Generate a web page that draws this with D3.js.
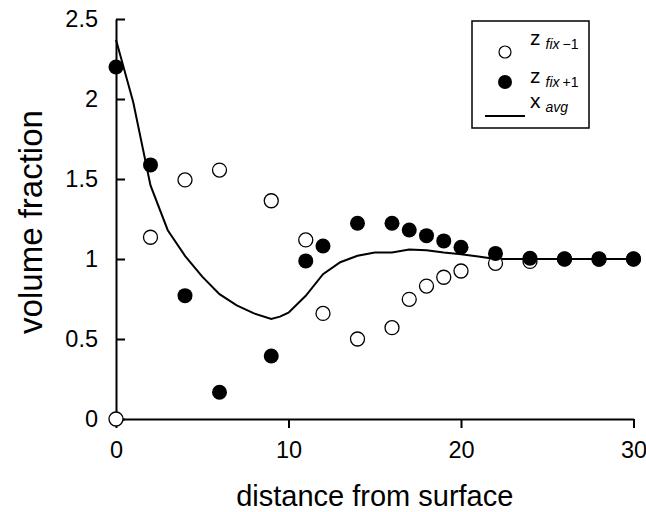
<!DOCTYPE html>
<meta charset="utf-8">
<style>
body { margin: 0; background: #fff; }
svg { font-family: "Liberation Sans", Arial, sans-serif; }
.axis .domain, .axis .tick line { stroke: #000; stroke-width: 2; }
.axis text { font-size: 23.5px; fill: #000; }
</style>
<body>
<script src="https://d3js.org/d3.v7.min.js"></script>
<script>

// z fix -1 (open circles)
var zm_x = [0, 2, 4, 6, 9, 11, 12, 14, 16, 17, 18, 19, 20, 22, 24, 26, 28, 30],
    zm_y = [0, 1.136, 1.494, 1.556, 1.364, 1.119, 0.66, 0.5, 0.571, 0.748, 0.831, 0.886, 0.925, 0.973, 0.985, 1.0, 1.0, 1.0];

// z fix +1 (filled circles)
var zp_x = [0, 2, 4, 6, 9, 11, 12, 14, 16, 17, 18, 19, 20, 22, 24, 26, 28, 30],
    zp_y = [2.2, 1.588, 0.771, 0.167, 0.394, 0.988, 1.081, 1.223, 1.223, 1.181, 1.146, 1.113, 1.073, 1.035, 1.005, 1.0, 0.999, 1.0];

// x avg (line)
var avg_x = [0, 1, 2, 3, 4, 5, 6, 7, 8, 9, 9.5, 10, 11, 12, 13, 14, 15, 16, 17, 18, 19, 20, 21, 22, 24, 26, 28, 30],
    avg_y = [2.37, 1.98, 1.46, 1.18, 1.02, 0.89, 0.78, 0.71, 0.66, 0.625, 0.64, 0.665, 0.77, 0.905, 0.98, 1.02, 1.04, 1.04, 1.06, 1.055, 1.04, 1.03, 1.015, 1.0, 1.0, 1.0, 1.0, 1.0];

var x_ticks = [0, 10, 20, 30],
    y_ticks = [0, 0.5, 1, 1.5, 2, 2.5];

var width = 646, height = 512;

var x = d3.scaleLinear().domain([0, 30]).range([116, 633.5]);
var y = d3.scaleLinear().domain([0, 2.5]).range([419, 19]);

var svg = d3.select("body").append("svg")
    .attr("width", width)
    .attr("height", height);

// axes
svg.append("g")
    .attr("class", "axis axis--x")
    .attr("transform", "translate(0," + y(0) + ")")
    .call(d3.axisBottom(x)
      .tickValues(x_ticks)
      .tickSizeInner(9)
      .tickSizeOuter(0)
      .tickPadding(13)
      .tickFormat(d3.format("d")));

svg.append("g")
    .attr("class", "axis axis--y")
    .attr("transform", "translate(" + x(0) + ",0)")
    .call(d3.axisLeft(y)
      .tickValues(y_ticks)
      .tickSizeInner(-9)
      .tickSizeOuter(0)
      .tickPadding(18)
      .tickFormat(function(d) { return d; }));

svg.selectAll(".axis").attr("font-family", null).attr("font-size", null);

// titles
svg.append("text")
    .attr("x", (x(0) + x(30)) / 2)
    .attr("y", 506)
    .attr("text-anchor", "middle")
    .style("font-size", "29px")
    .text("distance from surface");

svg.append("text")
    .attr("transform", "translate(42,222) rotate(-90)")
    .attr("text-anchor", "middle")
    .style("font-size", "33px")
    .text("volume fraction");

// avg line
var line = d3.line()
    .x(function(d) { return x(d[0]); })
    .y(function(d) { return y(d[1]); });

svg.append("path")
    .datum(d3.zip(avg_x, avg_y))
    .attr("fill", "none")
    .attr("stroke", "#000")
    .attr("stroke-width", 2)
    .attr("d", line);

// points
svg.append("g").selectAll("circle")
    .data(d3.zip(zm_x, zm_y))
    .enter().append("circle")
    .attr("cx", function(d) { return x(d[0]); })
    .attr("cy", function(d) { return y(d[1]); })
    .attr("r", 7)
    .attr("fill", "#fff")
    .attr("stroke", "#000")
    .attr("stroke-width", 1.3);

svg.append("g").selectAll("circle")
    .data(d3.zip(zp_x, zp_y))
    .enter().append("circle")
    .attr("cx", function(d) { return x(d[0]); })
    .attr("cy", function(d) { return y(d[1]); })
    .attr("r", 7.5)
    .attr("fill", "#000");

// legend
var legend = svg.append("g");
legend.append("rect")
    .attr("x", 472).attr("y", 21)
    .attr("width", 117).attr("height", 107)
    .attr("fill", "#fff")
    .attr("stroke", "#000")
    .attr("stroke-width", 1.5);

legend.append("circle")
    .attr("cx", 505).attr("cy", 52).attr("r", 6)
    .attr("fill", "#fff").attr("stroke", "#000").attr("stroke-width", 1.2);
legend.append("circle")
    .attr("cx", 505).attr("cy", 82).attr("r", 7)
    .attr("fill", "#000");
legend.append("line")
    .attr("x1", 485).attr("x2", 525)
    .attr("y1", 116).attr("y2", 116)
    .attr("stroke", "#000").attr("stroke-width", 2);

function legend_label(ypos, main, sub_it, sub_rest) {
  var t = legend.append("text")
      .attr("x", 530).attr("y", ypos)
      .style("font-size", "21px");
  t.append("tspan").text(main);
  t.append("tspan").attr("dx", 5).attr("dy", 4)
      .style("font-size", "14px").style("font-style", "italic").text(sub_it);
  if (sub_rest) {
    t.append("tspan").attr("dx", 3)
        .style("font-size", "14px").text(sub_rest);
  }
}
legend_label(45, "z", "fix", "\u22121");
legend_label(83, "z", "fix", "+1");
legend_label(108, "x", "avg", null);

</script>
